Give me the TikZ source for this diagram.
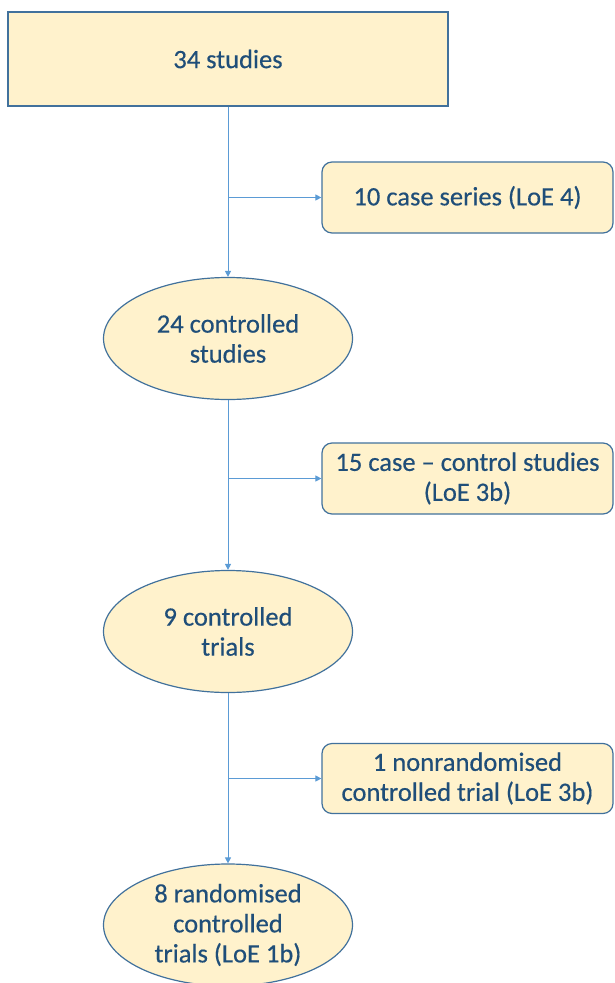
\documentclass[tikz,border=0pt]{standalone}
\usepackage{fontspec}
\setmainfont{Carlito}[FakeBold=0.4]
\usetikzlibrary{shapes.geometric,arrows.meta}
\definecolor{boxfill}{HTML}{FFF2CC}
\definecolor{boxline}{HTML}{41719C}
\definecolor{connline}{HTML}{5B9BD5}
\definecolor{txt}{HTML}{1F4E79}
\begin{document}
\begin{tikzpicture}[x=1pt,y=-1pt,
  every node/.style={font=\fontsize{26.5}{30}\selectfont, text=txt, align=center, inner sep=0pt},
  shapebase/.style={fill=boxfill, draw=boxline, line width=1.2pt},
  topbox/.style={shapebase, rectangle, minimum width=440pt, minimum height=94pt},
  sidebox/.style={shapebase, rectangle, rounded corners=10pt, minimum width=291pt, minimum height=71pt},
  oval/.style={shapebase, ellipse, minimum width=249pt, minimum height=122pt},
  conn/.style={draw=connline, line width=1pt, -{Triangle[width=6pt,length=6pt]}}
]
\useasboundingbox (0,0) rectangle (614,983);
\node[topbox] (top) at (228,59) {34 studies};
\node[sidebox] (b1) at (467.5,197.5) {10 case series (LoE 4)};
\node[oval] (e1) at (228,338.5) {24 controlled\\studies};
\node[sidebox] (b2) at (467.5,478.5) {15 case – control studies\\(LoE 3b)};
\node[oval] (e2) at (228,631.5) {9 controlled\\trials};
\node[sidebox, minimum height=70pt] (b3) at (467.5,778.5) {1 nonrandomised\\controlled trial (LoE 3b)};
\node[oval] (e3) at (228,925) {8 randomised\\controlled\\trials (LoE 1b)};
\coordinate (j1) at (top.south |- b1.west);
\coordinate (j2) at (e1.south |- b2.west);
\coordinate (j3) at (e2.south |- b3.west);
\draw[conn] (top.south) -- (e1.north);
\draw[conn] (j1) -- (b1.west);
\draw[conn] (e1.south) -- (e2.north);
\draw[conn] (j2) -- (b2.west);
\draw[conn] (e2.south) -- (e3.north);
\draw[conn] (j3) -- (b3.west);
\end{tikzpicture}
\end{document}
